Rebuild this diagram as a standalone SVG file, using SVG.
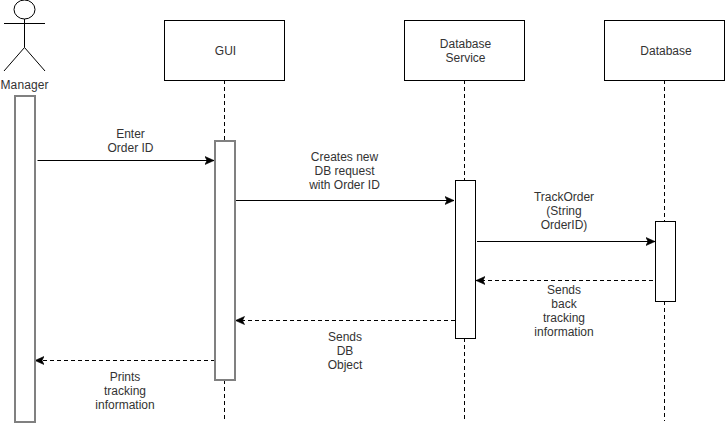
<svg xmlns="http://www.w3.org/2000/svg" width="725" height="424" viewBox="0 0 725 424">
<style>
text{font-family:"Liberation Sans",Arial,sans-serif;font-size:12px;fill:#333;text-anchor:middle}
.box{fill:#fff;stroke:#000;stroke-width:1}
.g{fill:#fff;stroke:#808080;stroke-width:2}
.life{fill:none;stroke:#000;stroke-width:1;stroke-dasharray:4 3}
.m{fill:none;stroke:#000;stroke-width:1}
.d{stroke-dasharray:4 3}
.fig{fill:none;stroke:#000;stroke-width:1}
</style>
<defs>
<marker id="a" markerUnits="userSpaceOnUse" markerWidth="12" markerHeight="12" refX="9" refY="6" orient="auto"><path d="M0 2L9 6L0 10L2 6Z" fill="#000" stroke="#000" stroke-width="0.6"/></marker>
</defs>
<rect width="725" height="424" fill="#fff"/>
<g id="connectors">
<path class="life" d="M224.500 80V141M224.500 380V420"/>
<path class="life" d="M464.500 80V181M464.500 338V421"/>
<path class="life" d="M664.500 80V221M664.500 301V421"/>
<path class="m" d="M37.500 160.500H214" marker-end="url(#a)"/>
<path class="m" d="M235.500 200.500H454" marker-end="url(#a)"/>
<path class="m" d="M477 241.500H655" marker-end="url(#a)"/>
<path class="m d" d="M653 280.500H476" marker-end="url(#a)"/>
<path class="m d" d="M455 320.500H235.500" marker-end="url(#a)"/>
<path class="m d" d="M215 360.500H35" marker-end="url(#a)"/>
</g>
<g id="manager">
<ellipse class="fig" cx="24.500" cy="9.500" rx="10.500" ry="9.500"/>
<path class="fig" d="M24.500 19V47.500M4 23.500H45M4 71L24.500 47.500L45 71"/>
<text x="24.500" y="89" textLength="48" lengthAdjust="spacing">Manager</text>
</g>
<g id="manager-bar"><rect class="g" x="15" y="96" width="20" height="326"/></g>
<g id="gui"><rect class="box" x="164.500" y="20.500" width="120" height="60"/><text x="225.500" y="55">GUI</text></g>
<g id="gui-bar"><rect class="g" x="215" y="141" width="20" height="239"/></g>
<g id="database-service"><rect class="box" x="404.500" y="20.500" width="120" height="60"/><text x="465.500" y="48">Database</text><text x="465.500" y="62">Service</text></g>
<g id="service-bar"><rect class="box" x="455.500" y="180.500" width="20" height="158"/></g>
<g id="database"><rect class="box" x="604.500" y="20.500" width="120" height="60"/><text x="666" y="55">Database</text></g>
<g id="database-bar"><rect class="box" x="655.500" y="221.500" width="20" height="80"/></g>
<g id="labels">
<text x="130.500" y="138">Enter</text><text x="130.500" y="152">Order ID</text>
<text x="344.500" y="161">Creates new</text><text x="344.500" y="175">DB request</text><text x="344.500" y="189">with Order ID</text>
<text x="564" y="201">TrackOrder</text><text x="564" y="215">(String</text><text x="564" y="229">OrderID)</text>
<text x="564" y="294">Sends</text><text x="564" y="308">back</text><text x="564" y="322">tracking</text><text x="564" y="336">information</text>
<text x="345" y="341">Sends</text><text x="345" y="355">DB</text><text x="345" y="369">Object</text>
<text x="125" y="381">Prints</text><text x="125" y="395">tracking</text><text x="125" y="409">information</text>
</g>
</svg>
